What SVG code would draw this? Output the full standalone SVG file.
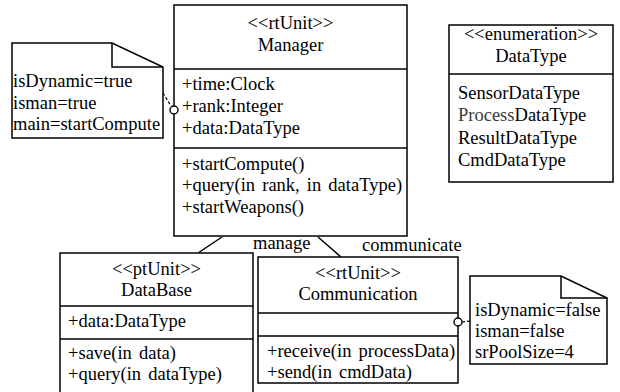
<svg xmlns="http://www.w3.org/2000/svg" width="620" height="392" viewBox="0 0 620 392" font-family="'Liberation Serif', 'Times New Roman', Times, serif" font-size="18.5" word-spacing="2.5">
  <style>
    .box { fill: #fff; stroke: #000; stroke-width: 1.5; }
    .ln { fill: none; stroke: #000; stroke-width: 1.5; }
    .dash { fill: none; stroke: #000; stroke-width: 1.2; stroke-dasharray: 3 2; }
    .port { fill: #fff; stroke: #000; stroke-width: 1.4; }
    .c { text-anchor: middle; }
  </style>
  <rect width="620" height="392" fill="#fff"/>

  <!-- associations -->
  <g id="connectors">
    <line class="ln" x1="222" y1="237" x2="198" y2="253"/>
    <line class="ln" x1="318" y1="237" x2="341" y2="257"/>
    <text x="253" y="249">manage</text>
    <text x="362" y="251">communicate</text>
    <line class="dash" x1="163" y1="93" x2="171" y2="106"/>
    <line class="dash" x1="462" y1="322" x2="470" y2="321"/>
  </g>

  <!-- Manager unit -->
  <g id="manager">
    <rect class="box" x="174" y="5" width="233" height="231"/>
    <line class="ln" x1="174" y1="69" x2="407" y2="69"/>
    <line class="ln" x1="174" y1="148" x2="407" y2="148"/>
    <text class="c" x="290.5" y="29">&lt;&lt;rtUnit&gt;&gt;</text>
    <text class="c" x="290.5" y="51">Manager</text>
    <text x="182" y="90">+time:Clock</text>
    <text x="182" y="112">+rank:Integer</text>
    <text x="182" y="134">+data:DataType</text>
    <text x="182" y="170">+startCompute()</text>
    <text x="182" y="191">+query(in rank, in dataType)</text>
    <text x="182" y="213">+startWeapons()</text>
    <circle class="port" cx="174" cy="110" r="4"/>
  </g>

  <!-- note attached to Manager -->
  <g id="manager-note">
    <path class="box" d="M12,43 H112 L163,67 V138 H12 Z"/>
    <path class="ln" d="M112,43 V67 H163"/>
    <text x="13" y="87">isDynamic=true</text>
    <text x="13" y="109">isman=true</text>
    <text x="13" y="130">main=startCompute</text>
  </g>

  <!-- DataType enumeration -->
  <g id="datatype">
    <rect class="box" x="449" y="25" width="164" height="157"/>
    <line class="ln" x1="449" y1="74" x2="613" y2="74"/>
    <text class="c" x="531" y="40">&lt;&lt;enumeration&gt;&gt;</text>
    <text class="c" x="531" y="62">DataType</text>
    <text x="458" y="99">SensorDataType</text>
    <text x="458" y="121"><tspan fill="#3c3c3c">Process</tspan>DataType</text>
    <text x="458" y="144">ResultDataType</text>
    <text x="458" y="166">CmdDataType</text>
  </g>

  <!-- DataBase unit -->
  <g id="database">
    <rect class="box" x="60" y="253" width="193" height="142"/>
    <line class="ln" x1="60" y1="306" x2="253" y2="306"/>
    <line class="ln" x1="60" y1="339" x2="253" y2="339"/>
    <text class="c" x="156.5" y="275">&lt;&lt;ptUnit&gt;&gt;</text>
    <text class="c" x="156.5" y="296">DataBase</text>
    <text x="68" y="327">+data:DataType</text>
    <text x="68" y="359">+save(in data)</text>
    <text x="68" y="380">+query(in dataType)</text>
  </g>

  <!-- Communication unit -->
  <g id="communication">
    <rect class="box" x="258" y="257" width="200" height="126"/>
    <line class="ln" x1="258" y1="313" x2="458" y2="313"/>
    <line class="ln" x1="258" y1="336" x2="458" y2="336"/>
    <text class="c" x="358" y="279">&lt;&lt;rtUnit&gt;&gt;</text>
    <text class="c" x="358" y="300">Communication</text>
    <text x="267" y="357">+receive(in processData)</text>
    <text x="267" y="378">+send(in cmdData)</text>
    <circle class="port" cx="458" cy="322" r="4"/>
  </g>

  <!-- note attached to Communication -->
  <g id="communication-note">
    <path class="box" d="M470,276 H561 L607,298 V364 H470 Z"/>
    <path class="ln" d="M561,276 V298 H607"/>
    <text x="475" y="316">isDynamic=false</text>
    <text x="475" y="337">isman=false</text>
    <text x="475" y="358">srPoolSize=4</text>
  </g>
</svg>
